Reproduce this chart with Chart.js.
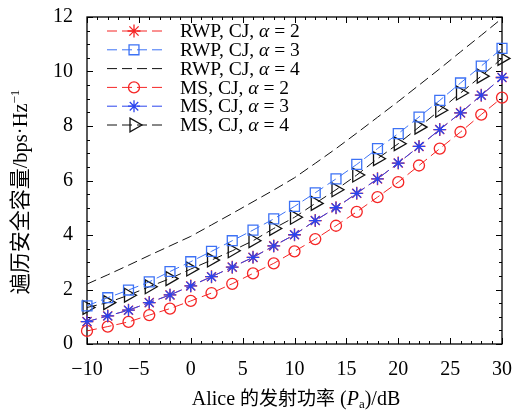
<!DOCTYPE html>
<html lang="zh">
<head>
  <meta charset="UTF-8">
  <title>遍历安全容量</title>
  <script src="https://cdn.jsdelivr.net/npm/chart.js"></script>
  <style>
    html, body { margin: 0; padding: 0; background: #fff; }
    #wrap { width: 524px; height: 410px; }
  </style>
</head>
<body>
  <div id="wrap"><canvas id="cap-chart" width="524" height="410"></canvas></div>
  <script>
    // Alice 发射功率 (dB)
    const powerDb = [-10, -8, -6, -4, -2, 0, 2, 4, 6, 8, 10, 12, 14, 16, 18, 20, 22, 24, 26, 28, 30];

    // 各曲线数值 (bps/Hz)
    const rwpA2 = [0.82, 1.03, 1.24, 1.52, 1.80, 2.13, 2.47, 2.82, 3.18, 3.60, 4.01, 4.53, 5.00, 5.53, 6.06, 6.64, 7.25, 7.87, 8.48, 9.13, 9.78];
    const rwpA3 = [1.40, 1.70, 1.98, 2.28, 2.66, 3.02, 3.40, 3.79, 4.18, 4.59, 5.05, 5.55, 6.06, 6.59, 7.17, 7.72, 8.33, 8.94, 9.58, 10.20, 10.85];
    const rwpA4 = [2.20, 2.54, 2.89, 3.25, 3.60, 3.95, 4.37, 4.79, 5.22, 5.65, 6.10, 6.63, 7.17, 7.74, 8.32, 8.90, 9.50, 10.10, 10.72, 11.33, 11.95];
    const msA2  = [0.48, 0.64, 0.81, 1.06, 1.30, 1.58, 1.87, 2.21, 2.59, 2.96, 3.40, 3.85, 4.34, 4.85, 5.39, 5.94, 6.55, 7.17, 7.78, 8.42, 9.04];
    const msA3  = [0.82, 1.03, 1.24, 1.52, 1.80, 2.13, 2.47, 2.82, 3.18, 3.60, 4.01, 4.53, 5.00, 5.53, 6.06, 6.64, 7.25, 7.87, 8.48, 9.13, 9.78];
    const msA4  = [1.34, 1.52, 1.79, 2.10, 2.40, 2.75, 3.08, 3.42, 3.79, 4.24, 4.65, 5.16, 5.66, 6.20, 6.80, 7.35, 7.96, 8.58, 9.21, 9.83, 10.48];

    // 刻度
    const xTicks = [-10, -5, 0, 5, 10, 15, 20, 25, 30];
    const yTicks = [0, 2, 4, 6, 8, 10, 12];

    const SERIF = '"Liberation Serif", "Times New Roman", serif';
    const CJK = '"Noto Sans CJK SC", sans-serif';
    const RED = '#f52525';
    const BLUE_SQ = '#3d72f5';
    const BLUE_ST = '#2b44ee';

    function pts(vals) {
      return vals.map((v, i) => ({ x: powerDb[i], y: v }));
    }

    function series(label, vals, color, style, radius, extra) {
      return Object.assign({
        label: label,
        data: pts(vals),
        borderColor: color,
        backgroundColor: 'rgba(0,0,0,0)',
        borderWidth: 1,
        borderDash: [10, 5],
        pointStyle: style,
        pointRadius: radius,
        pointBorderColor: color,
        pointBackgroundColor: 'rgba(0,0,0,0)',
        pointBorderWidth: 1.3,
        tension: 0,
        clip: false,
        order: 1
      }, extra || {});
    }

    const datasets = [
      series('RWP, CJ, α = 2', rwpA2, RED, 'star', 6.5),
      series('RWP, CJ, α = 3', rwpA3, BLUE_SQ, 'rect', 7),
      series('RWP, CJ, α = 4', rwpA4, '#111', false, 0),
      series('MS, CJ, α = 2', msA2, RED, 'circle', 5.5),
      series('MS, CJ, α = 3', msA3, BLUE_ST, 'star', 6, { order: 0 }),
      series('MS, CJ, α = 4', msA4, '#111', 'triangle', 8, { pointRotation: 90 })
    ];

    // 画单个图例标记
    function drawMarker(ctx, ds, x, y) {
      const r = ds.pointRadius;
      ctx.save();
      ctx.strokeStyle = ds.pointBorderColor;
      ctx.lineWidth = ds.pointBorderWidth;
      ctx.setLineDash([]);
      ctx.beginPath();
      if (ds.pointStyle === 'circle') {
        ctx.arc(x, y, r, 0, Math.PI * 2);
      } else if (ds.pointStyle === 'rect') {
        const s = r * Math.SQRT1_2;
        ctx.rect(x - s, y - s, 2 * s, 2 * s);
      } else if (ds.pointStyle === 'triangle') {
        for (let k = 0; k < 3; k++) {
          const a = Math.PI / 2 + k * 2 * Math.PI / 3;
          const px = x + Math.sin(a) * r, py = y - Math.cos(a) * r;
          if (k === 0) ctx.moveTo(px, py); else ctx.lineTo(px, py);
        }
        ctx.closePath();
      } else if (ds.pointStyle === 'star') {
        for (let k = 0; k < 4; k++) {
          const a = k * Math.PI / 4;
          ctx.moveTo(x - Math.cos(a) * r, y - Math.sin(a) * r);
          ctx.lineTo(x + Math.cos(a) * r, y + Math.sin(a) * r);
        }
      }
      ctx.stroke();
      ctx.restore();
    }

    // 混合字体文字
    function drawRuns(ctx, runs, cx, cy) {
      let total = 0;
      runs.forEach(r => { ctx.font = r.font; total += ctx.measureText(r.text).width; });
      let x = cx - total / 2;
      ctx.textAlign = 'left';
      ctx.textBaseline = 'alphabetic';
      runs.forEach(r => {
        ctx.font = r.font;
        ctx.fillText(r.text, x, cy + (r.dy || 0));
        x += ctx.measureText(r.text).width;
      });
    }

    const framePlugin = {
      id: 'framePlugin',
      beforeDatasetsDraw(chart) {
        const { ctx, chartArea: a, scales } = chart;
        ctx.save();
        ctx.strokeStyle = '#000';
        ctx.lineWidth = 1.3;
        ctx.strokeRect(a.left, a.top, a.right - a.left, a.bottom - a.top);
        ctx.lineWidth = 1;
        ctx.beginPath();
        // x 轴刻度 (上下, 向内)
        for (let v = scales.x.min; v <= scales.x.max + 1e-9; v += 1) {
          const px = Math.round(scales.x.getPixelForValue(v)) + 0.5;
          const len = (v % 5 === 0) ? 6 : 3;
          ctx.moveTo(px, a.bottom); ctx.lineTo(px, a.bottom - len);
          ctx.moveTo(px, a.top); ctx.lineTo(px, a.top + len);
        }
        // y 轴刻度
        for (let v = scales.y.min; v <= scales.y.max + 1e-9; v += 0.5) {
          const py = Math.round(scales.y.getPixelForValue(v)) + 0.5;
          const len = (Math.abs(v % 2) < 1e-9) ? 6 : 3;
          ctx.moveTo(a.left, py); ctx.lineTo(a.left + len, py);
          ctx.moveTo(a.right, py); ctx.lineTo(a.right - len, py);
        }
        ctx.stroke();
        ctx.restore();
      },
      afterDraw(chart) {
        const ctx = chart.ctx;
        ctx.save();
        ctx.fillStyle = '#000';

        // 图例
        const lx0 = 107, lx1 = 162, mx = 134, tx = 180;
        datasets.forEach((ds, i) => {
          const y = 31 + i * 18.8;
          ctx.save();
          ctx.strokeStyle = ds.borderColor;
          ctx.lineWidth = 1;
          ctx.setLineDash(ds.borderDash);
          ctx.beginPath();
          ctx.moveTo(lx0, y); ctx.lineTo(lx1, y);
          ctx.stroke();
          ctx.restore();
          if (ds.pointStyle) drawMarker(ctx, ds, mx, y);
          const parts = ds.label.split('α');
          ctx.textBaseline = 'middle';
          ctx.textAlign = 'left';
          let x = tx;
          ctx.font = '19.5px ' + SERIF;
          ctx.fillText(parts[0], x, y + 1);
          x += ctx.measureText(parts[0]).width;
          ctx.font = 'italic 19.5px ' + SERIF;
          ctx.fillText('α', x, y + 1);
          x += ctx.measureText('α').width;
          ctx.font = '19.5px ' + SERIF;
          ctx.fillText(parts[1], x, y + 1);
        });

        // x 轴标题
        drawRuns(ctx, [
          { text: 'Alice ', font: '20px ' + SERIF },
          { text: '的发射功率', font: '19px ' + CJK },
          { text: ' (', font: '20px ' + SERIF },
          { text: 'P', font: 'italic 20px ' + SERIF },
          { text: 'a', font: '13px ' + SERIF, dy: 3 },
          { text: ')/dB', font: '20px ' + SERIF }
        ], 296, 405);

        // y 轴标题
        ctx.save();
        ctx.translate(27, 192);
        ctx.rotate(-Math.PI / 2);
        drawRuns(ctx, [
          { text: '遍历安全容量', font: '21px ' + CJK },
          { text: '/bps·Hz', font: '20.5px ' + SERIF },
          { text: '−1', font: '13px ' + SERIF, dy: -8 }
        ], 0, 0);
        ctx.restore();

        ctx.restore();
      }
    };

    const fmtTick = v => String(v).replace('-', '−');

    new Chart(document.getElementById('cap-chart').getContext('2d'), {
      type: 'line',
      data: { datasets: datasets },
      options: {
        responsive: false,
        animation: false,
        devicePixelRatio: 1,
        layout: { padding: { left: 0, right: 22, top: 17, bottom: 0 } },
        plugins: { legend: { display: false }, tooltip: { enabled: false } },
        scales: {
          x: {
            type: 'linear',
            min: -10, max: 30,
            grid: { display: false, drawTicks: false },
            border: { display: false },
            afterBuildTicks: s => { s.ticks = xTicks.map(v => ({ value: v })); },
            afterFit: s => { s.height = 66; s.paddingLeft = 0; s.paddingRight = 0; },
            ticks: {
              padding: 14,
              color: '#000',
              font: { family: SERIF, size: 20 },
              maxRotation: 0,
              callback: fmtTick
            }
          },
          y: {
            min: 0, max: 12,
            grid: { display: false, drawTicks: false },
            border: { display: false },
            afterBuildTicks: s => { s.ticks = yTicks.map(v => ({ value: v })); },
            afterFit: s => { s.width = 87; s.paddingTop = 0; s.paddingBottom = 0; },
            ticks: {
              padding: 14,
              color: '#000',
              font: { family: SERIF, size: 20 },
              callback: fmtTick
            }
          }
        }
      },
      plugins: [framePlugin]
    });
  </script>
</body>
</html>
